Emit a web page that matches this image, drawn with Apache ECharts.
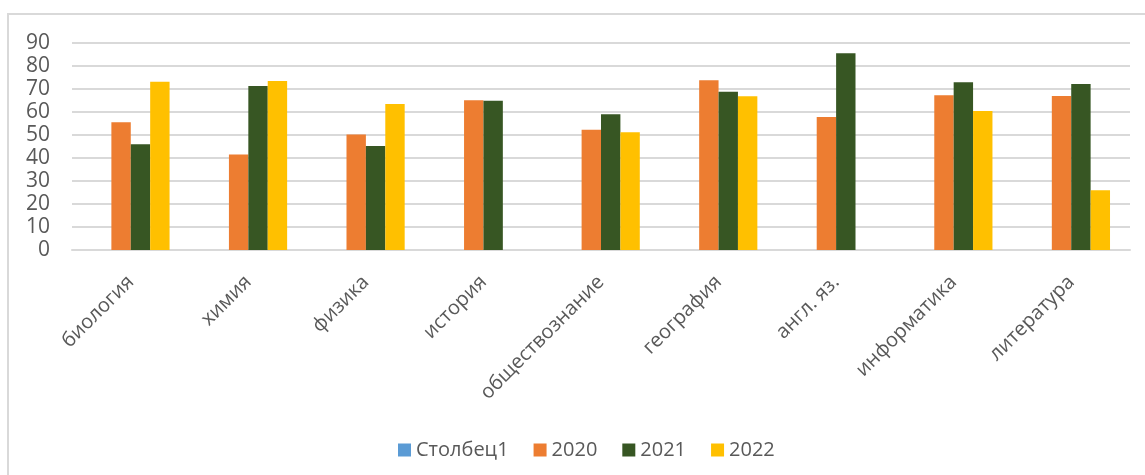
<!DOCTYPE html>
<html>
<head>
<meta charset="utf-8">
<script src="https://cdn.jsdelivr.net/npm/echarts@6/dist/echarts.min.js"></script>
<style>
  html, body { margin: 0; padding: 0; background: #fff; }
  #frame {
    position: absolute; left: 7px; top: 13px; width: 1137px; height: 480px;
    border-left: 2px solid #d9d9d9; border-top: 2px solid #d9d9d9;
  }
  #main { position: absolute; left: 0; top: 0; width: 1145px; height: 475px; }
</style>
</head>
<body>
<div id="frame"></div>
<div id="main"></div>
<script>
// предметы
const subjects = ['биология', 'химия', 'физика', 'история', 'обществознание',
  'география', 'англ. яз.', 'информатика', 'литература']
const col1 = [null, null, null, null, null, null, null, null, null]
const y2020 = [55.5, 41.5, 50.2, 65.1, 52.3, 73.8, 57.8, 67.3, 67.0]
const y2021 = [46.0, 71.3, 45.2, 64.9, 59.0, 68.8, 85.5, 72.9, 72.2]
const y2022 = [73.2, 73.5, 63.5, null, 51.2, 66.8, null, 60.4, 26.0]
const yTicks = [0, 10, 20, 30, 40, 50, 60, 70, 80, 90]

const font = '"Open Sans", "Noto Sans", sans-serif'
const myChart = echarts.init(document.getElementById('main'))

const bar = (name, data, color) => ({
  name: name,
  type: 'bar',
  data: data,
  barGap: 0,
  barCategoryGap: '34%',
  itemStyle: { color: color },
  emphasis: { disabled: true }
})

myChart.setOption({
  animation: false,
  textStyle: { fontFamily: font },
  legend: {
    data: ['Столбец1', '2020', '2021', '2022'],
    left: 393,
    top: 435,
    itemWidth: 13,
    itemHeight: 13,
    itemGap: 25,
    icon: 'rect',
    textStyle: { fontSize: 20, color: '#595959', fontFamily: font }
  },
  grid: {
    left: 72,
    right: 15,
    top: 43,
    bottom: 225
  },
  xAxis: {
    type: 'category',
    data: subjects,
    axisTick: { show: false },
    axisLine: { lineStyle: { color: '#d9d9d9', width: 2 } },
    axisLabel: {
      rotate: 45,
      interval: 0,
      margin: 29,
      fontSize: 20,
      color: '#595959',
      fontFamily: font
    }
  },
  yAxis: {
    type: 'value',
    min: yTicks[0],
    max: yTicks[yTicks.length - 1],
    interval: 10,
    axisLine: { show: false },
    axisTick: { show: false },
    splitLine: { lineStyle: { color: '#d9d9d9', width: 2 } },
    axisLabel: {
      margin: 22,
      fontSize: 21,
      color: '#595959',
      fontFamily: font
    }
  },
  series: [
    bar('Столбец1', col1, '#5b9bd5'),
    bar('2020', y2020, '#ed7d31'),
    bar('2021', y2021, '#375623'),
    bar('2022', y2022, '#ffc000')
  ]
})
</script>
</body>
</html>
